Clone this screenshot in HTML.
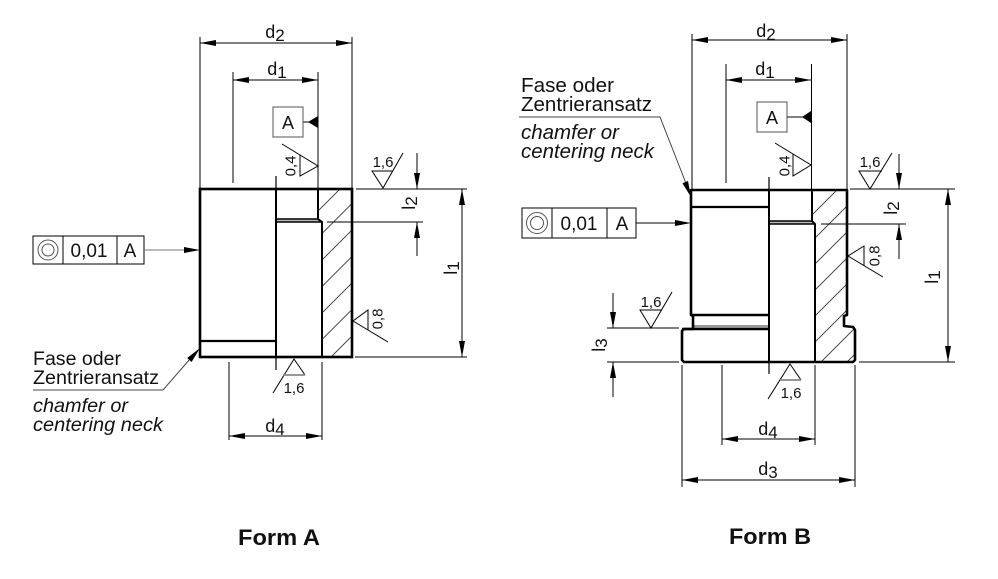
<!DOCTYPE html>
<html><head><meta charset="utf-8"><style>
html,body{margin:0;padding:0;background:#fff;}
svg{display:block;}
text{font-family:"Liberation Sans",Arial,sans-serif;fill:#111;}
</style></head><body>
<svg width="998" height="579" viewBox="0 0 998 579" xmlns="http://www.w3.org/2000/svg">
<defs>
<clipPath id="hA"><polygon points="318,189 352,189 352,357 322,357 322,222 318,219"/></clipPath>
<clipPath id="hB"><polygon points="812,190 847,190 847,315 844,316 844,326 855,329 855,362 815,362 815,224 812,221"/></clipPath>
</defs>

<!-- ================= FORM A ================= -->
<g stroke="#000" fill="none">
  <g clip-path="url(#hA)" stroke="#333" stroke-width="0.9">
    <line x1="300" y1="229" x2="370" y2="159"/>
    <line x1="300" y1="255.5" x2="370" y2="185.5"/>
    <line x1="300" y1="282" x2="370" y2="212"/>
    <line x1="300" y1="308.5" x2="370" y2="238.5"/>
    <line x1="300" y1="335" x2="370" y2="265"/>
    <line x1="300" y1="361.5" x2="370" y2="291.5"/>
    <line x1="300" y1="388" x2="370" y2="318"/>
    <line x1="300" y1="414.5" x2="370" y2="344.5"/>
  </g>
  <rect x="276" y="219.5" width="44" height="2.5" fill="#bbb" stroke="none"/>
  <rect x="200" y="189" width="152" height="168" stroke-width="2.6"/>
  <line x1="200" y1="341" x2="276" y2="341" stroke-width="2.2"/>
  <line x1="276" y1="176" x2="276" y2="370" stroke-width="1.2"/>
  <line x1="276" y1="189" x2="276" y2="357" stroke-width="2"/>
  <polyline points="318,189 318,219 322,222 322,357" stroke-width="2"/>
  <line x1="276" y1="219" x2="318" y2="219" stroke-width="1.5"/>
  <line x1="276" y1="222" x2="322" y2="222" stroke-width="1.5"/>

  <g stroke-width="1">
    <line x1="200" y1="37" x2="200" y2="189"/>
    <line x1="352" y1="37" x2="352" y2="189"/>
    <line x1="200" y1="43" x2="352" y2="43"/>
    <line x1="233" y1="72" x2="233" y2="183"/>
    <line x1="318" y1="72" x2="318" y2="189"/>
    <line x1="233" y1="80" x2="318" y2="80"/>
    <line x1="303" y1="122" x2="318" y2="122"/>
    <line x1="356" y1="189" x2="467" y2="189"/>
    <line x1="327" y1="222" x2="423" y2="222"/>
    <line x1="355" y1="357" x2="467" y2="357"/>
    <line x1="417" y1="153" x2="417" y2="189"/>
    <line x1="417" y1="222" x2="417" y2="256"/>
    <line x1="462" y1="189" x2="462" y2="357"/>
    <line x1="229" y1="362" x2="229" y2="440"/>
    <line x1="322" y1="362" x2="322" y2="440"/>
    <line x1="229" y1="436" x2="322" y2="436"/>
    <polyline points="282,144 318,166 300,176 300,155"/>
    <polyline points="403,153 383,188 372,171 393,171"/>
    <polyline points="388,342 353,321 368,310 368,330"/>
    <polyline points="273,393 294,359 305,375"/>
    <polyline points="33,390 163,390 190,359" stroke="#444"/>
  </g>
  <line x1="283" y1="375" x2="305" y2="375" stroke="#888" stroke-width="1.8"/>
  <rect x="33" y="236" width="111" height="28" stroke-width="1"/>
  <line x1="63" y1="236" x2="63" y2="264" stroke-width="1"/>
  <line x1="117" y1="236" x2="117" y2="264" stroke-width="1"/>
  <circle cx="48" cy="250" r="10" stroke="#555" stroke-width="1"/>
  <circle cx="48" cy="250" r="6" stroke="#555" stroke-width="1"/>
  <line x1="144" y1="250" x2="186" y2="250" stroke="#777" stroke-width="1"/>
  <rect x="273" y="107" width="30" height="30" stroke="#555" stroke-width="1"/>
</g>
<g fill="#000">
  <polygon points="200,43 216,40 216,46"/>
  <polygon points="352,43 336,40 336,46"/>
  <polygon points="233,80 249,77 249,83"/>
  <polygon points="318,80 302,77 302,83"/>
  <polygon points="308,122 318,116 318,128"/>
  <polygon points="417,189 414,173 420,173"/>
  <polygon points="417,222 414,238 420,238"/>
  <polygon points="462,189 459,205 465,205"/>
  <polygon points="462,357 459,341 465,341"/>
  <polygon points="229,436 245,433 245,439"/>
  <polygon points="322,436 306,433 306,439"/>
  <polygon points="200,250 184,247 184,253"/>
  <polygon points="200,348 191.6,362 187.2,358"/>
</g>
<g>
  <text x="275" y="38" text-anchor="middle" font-size="18">d<tspan font-size="17" dy="3">2</tspan></text>
  <text x="277" y="75" text-anchor="middle" font-size="18">d<tspan font-size="17" dy="3">1</tspan></text>
  <text x="275" y="432" text-anchor="middle" font-size="18">d<tspan font-size="17" dy="3">4</tspan></text>
  <text x="288" y="129" text-anchor="middle" font-size="18">A</text>
  <text transform="translate(290,166) rotate(-90)" y="5.5" text-anchor="middle" font-size="15">0,4</text>
  <text x="383" y="167" text-anchor="middle" font-size="15">1,6</text>
  <text transform="translate(377,319) rotate(-90)" y="5.5" text-anchor="middle" font-size="15">0,8</text>
  <text x="294" y="393" text-anchor="middle" font-size="15">1,6</text>
  <text transform="translate(409,203) rotate(-90)" y="6" text-anchor="middle" font-size="18">l<tspan font-size="17" dy="2">2</tspan></text>
  <text transform="translate(451,268) rotate(-90)" y="6" text-anchor="middle" font-size="18">l<tspan font-size="17" dy="2">1</tspan></text>
  <text x="89" y="257" text-anchor="middle" font-size="19">0,01</text>
  <text x="130" y="257" text-anchor="middle" font-size="19">A</text>
  <text x="33" y="365" font-size="19" textLength="88" lengthAdjust="spacingAndGlyphs">Fase oder</text>
  <text x="33" y="384" font-size="19" textLength="126" lengthAdjust="spacingAndGlyphs">Zentrieransatz</text>
  <text x="33" y="412" font-size="19" font-style="italic" textLength="95" lengthAdjust="spacingAndGlyphs">chamfer or</text>
  <text x="33" y="431" font-size="19" font-style="italic" textLength="130" lengthAdjust="spacingAndGlyphs">centering neck</text>
  <text x="238" y="545" font-size="22" font-weight="bold" textLength="82" lengthAdjust="spacingAndGlyphs">Form A</text>
</g>

<!-- ================= FORM B ================= -->
<g stroke="#000" fill="none">
  <g clip-path="url(#hB)" stroke="#333" stroke-width="0.9">
    <line x1="800" y1="227" x2="870" y2="157"/>
    <line x1="800" y1="253" x2="870" y2="183"/>
    <line x1="800" y1="279" x2="870" y2="209"/>
    <line x1="800" y1="305" x2="870" y2="235"/>
    <line x1="800" y1="331" x2="870" y2="261"/>
    <line x1="800" y1="357" x2="870" y2="287"/>
    <line x1="800" y1="383" x2="870" y2="313"/>
    <line x1="800" y1="409" x2="870" y2="339"/>
    <line x1="800" y1="435" x2="870" y2="365"/>
  </g>
  <rect x="769" y="221.5" width="44" height="2.5" fill="#bbb" stroke="none"/>
  <rect x="693" y="325" width="76" height="2.5" fill="#999" stroke="none"/>
  <path d="M691,190 L847,190 L847,315 L844,316 L844,326 L853,327 L855,330 L855,360 L853,362 L684,362 L682,360 L682,331 L684,329 L693,329 L693,316 L691,315 Z" stroke-width="2.6" stroke-linejoin="round"/>
  <line x1="691" y1="207" x2="769" y2="207" stroke-width="2.2"/>
  <line x1="691" y1="315" x2="769" y2="315" stroke-width="2.4"/>
  <line x1="682" y1="329" x2="769" y2="329" stroke-width="2.4"/>
  <line x1="769" y1="177" x2="769" y2="374" stroke-width="1.2"/>
  <line x1="769" y1="190" x2="769" y2="362" stroke-width="2"/>
  <polyline points="812,190 812,221 815,224 815,362" stroke-width="2"/>
  <line x1="769" y1="221" x2="812" y2="221" stroke-width="1.5"/>
  <line x1="769" y1="224" x2="815" y2="224" stroke-width="1.5"/>

  <g stroke-width="1">
    <line x1="692" y1="34" x2="692" y2="190"/>
    <line x1="847" y1="34" x2="847" y2="190"/>
    <line x1="692" y1="40" x2="847" y2="40"/>
    <line x1="726" y1="64" x2="726" y2="183"/>
    <line x1="811.5" y1="64" x2="811.5" y2="190"/>
    <line x1="726" y1="80" x2="811" y2="80"/>
    <line x1="787" y1="117" x2="811" y2="117"/>
    <line x1="850" y1="189" x2="955" y2="189"/>
    <line x1="821" y1="224" x2="906" y2="224"/>
    <line x1="859" y1="362" x2="955" y2="362"/>
    <line x1="899" y1="154" x2="899" y2="189"/>
    <line x1="899" y1="224" x2="899" y2="259"/>
    <line x1="948" y1="189" x2="948" y2="362"/>
    <line x1="607" y1="328" x2="679" y2="328"/>
    <line x1="607" y1="362" x2="679" y2="362"/>
    <line x1="613" y1="293" x2="613" y2="328"/>
    <line x1="613" y1="362" x2="613" y2="397"/>
    <line x1="722" y1="365" x2="722" y2="445"/>
    <line x1="815" y1="365" x2="815" y2="445"/>
    <line x1="722" y1="439" x2="815" y2="439"/>
    <line x1="682" y1="365" x2="682" y2="487"/>
    <line x1="855" y1="365" x2="855" y2="487"/>
    <line x1="682" y1="480" x2="855" y2="480"/>
    <polyline points="775,143 811,165 793,176 793,154"/>
    <polyline points="892,153 870,189 859,171 882,171"/>
    <polyline points="883,277 848,256 864,246 864,266"/>
    <polyline points="672,292 651,328 640,310 662,310"/>
    <polyline points="768,399 790,364 801,380"/>
    <polyline points="519,117 660,117 685.5,182" stroke="#444"/>
  </g>
  <line x1="780" y1="380" x2="801" y2="380" stroke="#888" stroke-width="1.8"/>
  <rect x="522" y="208" width="114" height="30" stroke-width="1"/>
  <line x1="552" y1="208" x2="552" y2="238" stroke-width="1"/>
  <line x1="607" y1="208" x2="607" y2="238" stroke-width="1"/>
  <circle cx="537" cy="223" r="10.5" stroke="#555" stroke-width="1"/>
  <circle cx="537" cy="223" r="6.5" stroke="#555" stroke-width="1"/>
  <line x1="636" y1="223" x2="677" y2="223" stroke-width="1"/>
  <rect x="757" y="102" width="30" height="30" stroke="#555" stroke-width="1"/>
</g>
<g fill="#000">
  <polygon points="692,40 708,37 708,43"/>
  <polygon points="847,40 831,37 831,43"/>
  <polygon points="726,80 742,77 742,83"/>
  <polygon points="811,80 795,77 795,83"/>
  <polygon points="802,117 811,111 811,123"/>
  <polygon points="899,189 896,173 902,173"/>
  <polygon points="899,224 896,240 902,240"/>
  <polygon points="948,189 945,205 951,205"/>
  <polygon points="948,362 945,346 951,346"/>
  <polygon points="613,328 610,312 616,312"/>
  <polygon points="613,362 610,378 616,378"/>
  <polygon points="722,439 738,436 738,442"/>
  <polygon points="815,439 799,436 799,442"/>
  <polygon points="682,480 698,477 698,483"/>
  <polygon points="855,480 839,477 839,483"/>
  <polygon points="691,223 675,220 675,226"/>
  <polygon points="691,197 688,181 682.4,183.2"/>
</g>
<g>
  <text x="766" y="37" text-anchor="middle" font-size="18">d<tspan font-size="17" dy="3">2</tspan></text>
  <text x="765" y="75" text-anchor="middle" font-size="18">d<tspan font-size="17" dy="3">1</tspan></text>
  <text x="768" y="435" text-anchor="middle" font-size="18">d<tspan font-size="17" dy="3">4</tspan></text>
  <text x="768" y="475" text-anchor="middle" font-size="18">d<tspan font-size="17" dy="3">3</tspan></text>
  <text x="772" y="124" text-anchor="middle" font-size="18">A</text>
  <text transform="translate(784,166) rotate(-90)" y="5.5" text-anchor="middle" font-size="15">0,4</text>
  <text x="870" y="167" text-anchor="middle" font-size="15">1,6</text>
  <text transform="translate(874,256) rotate(-90)" y="5.5" text-anchor="middle" font-size="15">0,8</text>
  <text x="651" y="307" text-anchor="middle" font-size="15">1,6</text>
  <text x="791" y="398" text-anchor="middle" font-size="15">1,6</text>
  <text transform="translate(891,208) rotate(-90)" y="6" text-anchor="middle" font-size="18">l<tspan font-size="17" dy="2">2</tspan></text>
  <text transform="translate(932,277) rotate(-90)" y="6" text-anchor="middle" font-size="18">l<tspan font-size="17" dy="2">1</tspan></text>
  <text transform="translate(599,345) rotate(-90)" y="6" text-anchor="middle" font-size="18">l<tspan font-size="17" dy="2">3</tspan></text>
  <text x="579" y="230" text-anchor="middle" font-size="19">0,01</text>
  <text x="622" y="230" text-anchor="middle" font-size="19">A</text>
  <text x="521" y="92" font-size="20" textLength="93" lengthAdjust="spacingAndGlyphs">Fase oder</text>
  <text x="521" y="111" font-size="20" textLength="131" lengthAdjust="spacingAndGlyphs">Zentrieransatz</text>
  <text x="521" y="139" font-size="20" font-style="italic" textLength="98" lengthAdjust="spacingAndGlyphs">chamfer or</text>
  <text x="521" y="158" font-size="20" font-style="italic" textLength="133" lengthAdjust="spacingAndGlyphs">centering neck</text>
  <text x="729" y="544" font-size="22" font-weight="bold" textLength="82" lengthAdjust="spacingAndGlyphs">Form B</text>
</g>
</svg>
</body></html>
